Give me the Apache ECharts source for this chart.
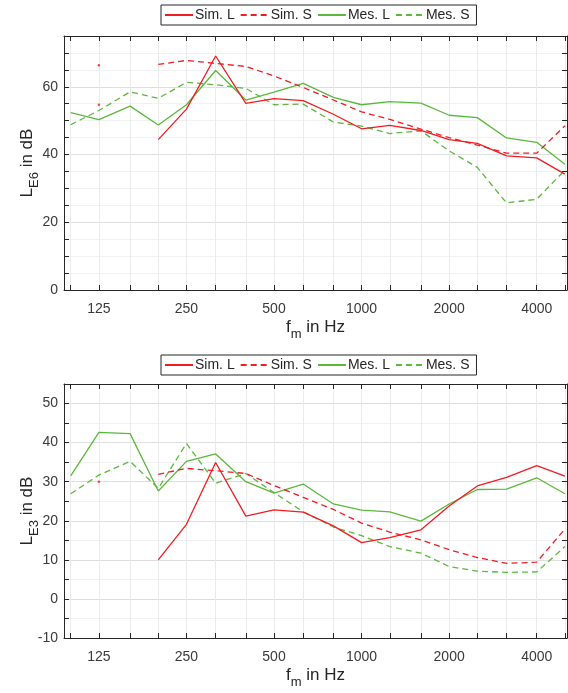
<!DOCTYPE html>
<html><head><meta charset="utf-8">
<script src="https://cdn.jsdelivr.net/npm/echarts@6/dist/echarts.min.js"></script>
<style>html,body{margin:0;padding:0;background:#fff}#c{width:568px;height:693px}</style>
</head><body><div id="c"></div>
<script>
// third-octave band centre frequencies (Hz)
const bands = [100,125,160,200,250,315,400,500,630,800,1000,1250,1600,2000,2500,3150,4000,5000];
const labelBands = [125,250,500,1000,2000,4000];
const seriesNames = ['Sim. L','Sim. S','Mes. L','Mes. S'];

// upper panel: L_E6 in dB
const simL_E6 = [null,54.7,null,44.4,53.4,69.1,55.1,56.5,55.9,51.9,47.6,48.6,47.1,44.4,43.3,39.6,39.0,34.2];
const simS_E6 = [null,66.4,null,66.6,67.8,66.9,66.0,63.2,59.8,56.1,52.6,50.4,47.5,45.0,42.8,40.4,40.4,48.5];
const mesL_E6 = [52.4,50.3,54.3,48.7,54.7,64.8,56.1,58.4,61.0,56.9,54.7,55.6,55.2,51.6,50.9,44.9,43.6,37.1];
const mesS_E6 = [48.8,53.0,58.5,56.6,61.3,60.6,59.5,54.7,54.9,49.6,48.4,46.2,47.0,41.1,36.2,25.7,26.8,35.4];

// lower panel: L_E3 in dB
const simL_E3 = [null,null,null,10.0,19.1,34.9,21.2,22.8,22.2,18.7,14.4,15.7,17.7,23.8,28.9,31.1,34.1,31.4];
const simS_E3 = [null,30.0,null,31.9,33.4,32.8,32.1,29.0,26.0,22.9,19.4,17.1,15.1,12.6,10.6,9.1,9.4,17.9];
const mesL_E3 = [31.5,42.6,42.3,27.6,35.2,37.1,30.0,27.1,29.4,24.3,22.7,22.3,19.9,24.3,28.0,28.1,31.0,26.9];
const mesS_E3 = [26.9,31.7,35.2,28.3,39.8,29.6,32.1,27.2,22.3,18.4,16.2,13.4,11.7,8.3,7.1,6.8,6.9,13.4];

const RED = '#f01c22', GREEN = '#5cb83d';
const FONT = '"Liberation Sans", Arial, Helvetica, sans-serif';
const TXT = '#262626', LBL = '#3a3a3a';
const lg = v => Math.log10(v);
const xMin = 1.97695, xMax = 3.70622;
const tickVals = bands.map(lg);
const labelVals = labelBands.map(lg);

const panels = [
  {data:[simL_E6,simS_E6,mesL_E6,mesS_E6], ymin:0, ymax:75, major:20, yname:'E6', top:36},
  {data:[simL_E3,simS_E3,mesL_E3,mesS_E3], ymin:-10, ymax:55, major:10, yname:'E3', top:384}
];
const styles = [
  {color:RED, type:'solid'}, {color:RED, type:[6,4]},
  {color:GREEN, type:'solid'}, {color:GREEN, type:[6,4]}
];

const grid = [], xAxis = [], yAxis = [], series = [], legend = [];
const richName = {
  a:{fontSize:17, color:TXT, fontFamily:FONT},
  s:{fontSize:13, color:TXT, fontFamily:FONT, padding:[14,0,0,0]}
};

panels.forEach((p, gi) => {
  grid.push({left:64, top:p.top, width:503, height:254, show:true, backgroundColor:'#fff', borderWidth:0});
  const tickCommon = {show:true, inside:true, length:5, lineStyle:{color:TXT, width:1}};
  xAxis.push({
    type:'value', gridIndex:gi, min:xMin, max:xMax, position:'bottom',
    axisLine:{show:true, onZero:false, lineStyle:{color:TXT, width:1}},
    axisTick:Object.assign({customValues:tickVals}, tickCommon),
    axisLabel:{show:true, customValues:labelVals, formatter:v => String(Math.round(Math.pow(10, v))),
      color:LBL, fontSize:14, fontFamily:FONT, margin:12},
    splitLine:{show:true, lineStyle:{color:'#ebebeb', width:1}},
    name:'{a|f}{s|m}{a| in Hz}', nameLocation:'middle', nameGap:24,
    nameTextStyle:{rich:richName}
  });
  xAxis.push({
    type:'value', gridIndex:gi, min:xMin, max:xMax, position:'top',
    axisLine:{show:true, onZero:false, lineStyle:{color:TXT, width:1}},
    axisTick:Object.assign({customValues:tickVals}, tickCommon),
    axisLabel:{show:false}, splitLine:{show:false}
  });
  const nMinor = p.major / 5;
  const splitColors = ['#dedede'].concat(new Array(nMinor - 1).fill('#f1f1f1'));
  yAxis.push({
    type:'value', gridIndex:gi, min:p.ymin, max:p.ymax, interval:5, position:'left',
    axisLine:{show:true, onZero:false, lineStyle:{color:TXT, width:1}},
    axisTick:tickCommon,
    axisLabel:{formatter:v => (v % p.major === 0 ? String(v) : ''), color:LBL, fontSize:14, fontFamily:FONT, margin:6, showMaxLabel:false},
    splitLine:{show:true, lineStyle:{color:splitColors, width:1}},
    name:'{a|L}{s|' + p.yname + '}{a| in dB}', nameLocation:'middle', nameRotate:90, nameGap:23,
    nameMoveOverlap:false,
    nameTextStyle:{rich:richName}
  });
  yAxis.push({
    type:'value', gridIndex:gi, min:p.ymin, max:p.ymax, interval:5, position:'right',
    axisLine:{show:true, onZero:false, lineStyle:{color:TXT, width:1}},
    axisTick:tickCommon, axisLabel:{show:false}, splitLine:{show:false}
  });
  p.data.forEach((arr, si) => {
    const st = styles[si];
    series.push({
      type:'line', name:seriesNames[si], xAxisIndex:gi*2, yAxisIndex:gi*2,
      data:bands.map((f, i) => [lg(f), arr[i] == null ? '-' : arr[i]]),
      symbol:'none', connectNulls:false, clip:true,
      lineStyle:{color:st.color, width:1.3, type:st.type},
      itemStyle:{color:st.color}, emphasis:{disabled:true}, z:3 + (si < 2 ? 1 : 0)
    });
    // isolated values (no neighbour) shown as tiny dots
    const iso = [];
    arr.forEach((v, i) => {
      if (v != null && (i === 0 || arr[i-1] == null) && (i === arr.length-1 || arr[i+1] == null)) iso.push([lg(bands[i]), v]);
    });
    if (iso.length) series.push({
      type:'scatter', name:seriesNames[si] + '_pt', xAxisIndex:gi*2, yAxisIndex:gi*2,
      data:iso, symbol:'circle', symbolSize:2.5, itemStyle:{color:st.color}, emphasis:{disabled:true}, silent:true
    });
  });
  legend.push({
    data:seriesNames, left:161, top: gi === 0 ? 5 : 355, orient:'horizontal',
    itemWidth:28, itemHeight:10, itemGap:5, padding:[3,7,3,3],
    borderColor:TXT, borderWidth:1, backgroundColor:'#fff', borderRadius:0,
    textStyle:{fontSize:14, color:TXT, fontFamily:FONT, padding:[0,0,0,-3]},
    itemStyle:{opacity:0}, selectedMode:false
  });
});

const chart = echarts.init(document.getElementById('c'), null, {renderer:'canvas'});
chart.setOption({
  animation:false, backgroundColor:'#fff',
  textStyle:{fontFamily:FONT},
  grid, xAxis, yAxis, series, legend
});
</script></body></html>
